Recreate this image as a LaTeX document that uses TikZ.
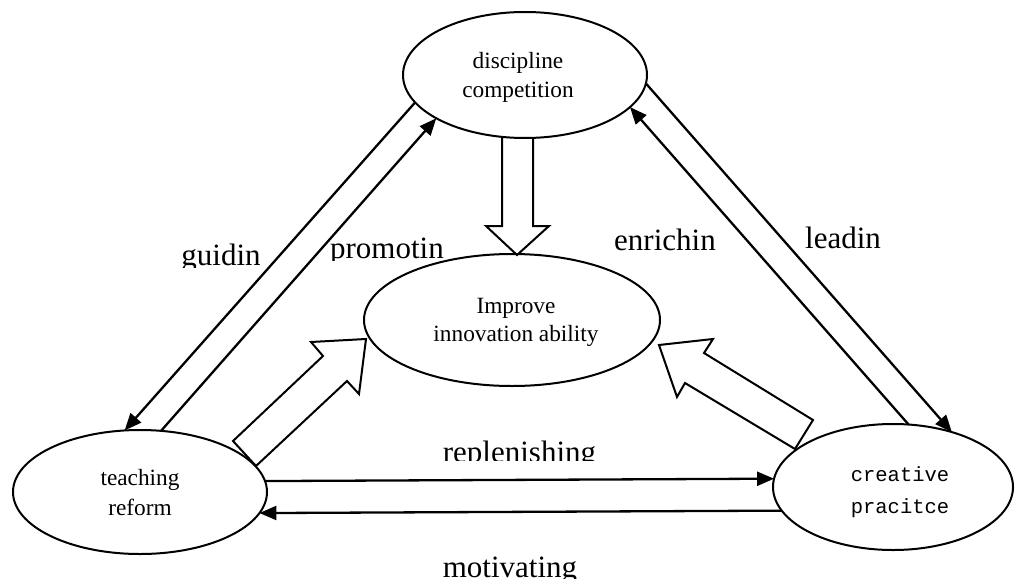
\documentclass[tikz,border=0pt]{standalone}
\usepackage{fontspec}
\setmainfont{Liberation Serif}
\newfontfamily\monofnt{Liberation Mono}
\usetikzlibrary{arrows.meta,shapes.geometric}
\begin{document}
\begin{tikzpicture}[x=1pt,y=-1pt,
  ell/.style={draw,ellipse,line width=2pt,inner sep=0pt,outer sep=0pt},
  txt/.style={anchor=base,inner sep=0pt,font={\fontsize{23.3}{28}\selectfont}},
  mtxt/.style={anchor=base,inner sep=0pt,font={\monofnt\fontsize{20.5}{28}\selectfont}},
  conn/.style={line width=2.3pt,-{Triangle[length=17pt,width=14pt]}},
  blk/.style={line width=2pt,line join=miter},
  lbl/.style={anchor=base,inner sep=0pt,font={\fontsize{31}{36}\selectfont}}]
\useasboundingbox (0,0) rectangle (1016,578);
% ellipses
\node[ell,minimum width=244pt,minimum height=126pt] (T) at (525,75) {};
\node[ell,minimum width=296pt,minimum height=132pt] (M) at (512,320) {};
\node[ell,minimum width=254pt,minimum height=124pt] (L) at (140,492) {};
\node[ell,minimum width=240pt,minimum height=126pt] (R) at (893,487) {};
% node texts
\node[txt] (T1) at (518,68) {discipline};
\node[txt] (T2) at (518,97) {competition};
\node[txt] (M1) at (516,313) {Improve};
\node[txt] (M2) at (516,341) {innovation ability};
\node[txt] (L1) at (140,485) {teaching};
\node[txt] (L2) at (140,515) {reform};
\node[mtxt] (R1) at (900,481) {creative};
\node[mtxt] (R2) at (900,513) {pracitce};
% connectors
\draw[conn] (T.194.6) -- (L.104.9);
\draw[conn] (L.71.8) -- (T.206.3);
\draw[conn] (R.76.8) -- (T.343.1);
\draw[conn] (T.356.2) -- (R.43.6);
\draw[conn] (L.5.4) -- (R.176.7);
\draw[conn] (R.192.7) -- (L.350.2);
% block arrows
\draw[blk] (502,138) -- (502,226) -- (486,226) -- (517,255) -- (549,226) -- (533,226) -- (533,138);
\draw[blk] (233,441) -- (323,356) -- (311,342) -- (366,339) -- (359,394) -- (347,381) -- (256,466) -- cycle;
\draw[blk] (659,345) -- (713,339) -- (704,353) -- (813,420) -- (795,449) -- (685,383) -- (677,397) -- cycle;
% labels
\begin{scope}
  \clip (0,0) rectangle (1016,267);
  \node[lbl] (lg) at (221,265) {guidin};
\end{scope}
\begin{scope}
  \clip (0,0) rectangle (1016,260);
  \node[lbl] (lp) at (387,258) {promotin};
\end{scope}
\node[lbl] (le) at (665,250) {enrichin};
\node[lbl] (ll) at (843,248) {leadin};
\begin{scope}
  \clip (0,0) rectangle (1016,460);
  \node[lbl] (lr) at (519.5,462) {replenishing};
\end{scope}
\begin{scope}
  \clip (0,0) rectangle (1016,578);
  \node[lbl] (lm) at (510,577) {motivating};
\end{scope}
\end{tikzpicture}
\end{document}
